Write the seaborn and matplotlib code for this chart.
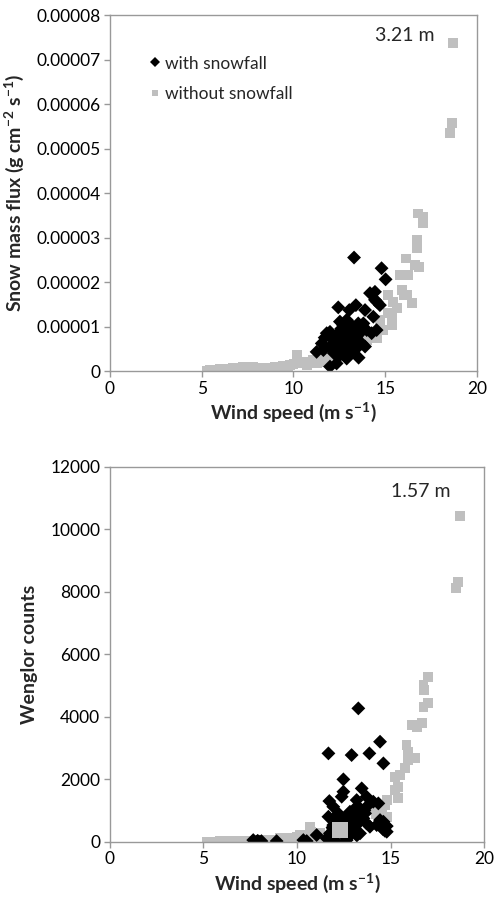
import numpy as np
import pandas as pd
import matplotlib
matplotlib.use("Agg")
import matplotlib.pyplot as plt
import seaborn as sns

# ---------------- data: top panel (3.21 m, snow mass flux, units 1e-5 g cm-2 s-1) ----------------
top_dry_x = [18.71, 18.62, 18.53, 16.80, 17.04, 17.04, 16.75, 16.75, 16.62, 16.84, 16.13, 15.80,
             16.26, 15.90, 16.00, 16.20, 16.44, 15.17, 15.44, 15.62, 15.35, 15.17, 14.71, 15.35,
             14.86, 14.53, 14.08, 13.81, 13.99, 12.26, 12.62, 11.44, 11.81, 11.08, 10.17, 10.35,
             9.81, 9.26, 8.54, 7.81, 7.27, 6.72, 6.00, 5.45, 5.27, 5.81, 6.36, 7.08, 8.17, 8.90,
             9.54, 10.72, 11.26, 12.17,
             5.60, 6.20, 6.50, 6.90, 7.40, 7.60, 8.00, 8.35, 8.70, 9.00, 9.40, 9.70, 10.00,
             10.50, 10.90, 11.60, 12.00, 12.40]
top_dry_y = [7.38, 5.58, 5.34, 3.54, 3.47, 3.32, 2.94, 2.76, 2.38, 2.34, 2.53, 2.16,
             2.16, 1.82, 1.71, 1.71, 1.52, 1.71, 1.56, 1.41, 1.22, 1.30, 1.15, 1.03,
             0.92, 0.75, 0.81, 0.75, 0.70, 0.40, 0.43, 0.28, 0.21, 0.25, 0.36, 0.17,
             0.13, 0.10, 0.07, 0.10, 0.10, 0.06, 0.04, 0.02, 0.00, 0.02, 0.04, 0.07, 0.06, 0.07,
             0.10, 0.13, 0.17, 0.21,
             0.02, 0.03, 0.05, 0.06, 0.08, 0.06, 0.05, 0.08, 0.05, 0.09, 0.12, 0.08, 0.15,
             0.20, 0.18, 0.30, 0.35, 0.30]
top_snow_x = [13.30, 14.80, 15.02, 14.17, 14.44, 14.53, 14.71, 14.44, 12.44, 13.40, 13.04, 13.90,
              14.35, 13.81, 13.90, 11.81, 11.99, 12.53, 12.71, 12.90, 13.17, 13.35, 13.53, 13.08,
              12.17, 12.35, 12.62, 12.90, 13.26, 13.44, 13.62, 12.99, 12.71, 13.08, 12.53, 12.90,
              12.35, 11.26, 11.63, 11.99, 11.54, 12.17, 13.26, 13.44, 13.72, 12.81, 12.44, 13.99,
              14.26, 14.53, 11.99, 13.17,
              12.60, 12.80, 13.00, 13.20, 12.70, 13.10, 13.30, 12.50, 12.80, 11.70, 12.20, 13.55]
top_snow_y = [2.55, 2.31, 2.06, 1.75, 1.78, 1.56, 1.48, 1.60, 1.43, 1.48, 1.37, 1.37,
              1.22, 1.07, 0.55, 0.85, 0.88, 1.11, 1.03, 1.15, 1.03, 0.96, 1.07, 0.85,
              0.70, 0.81, 0.77, 0.70, 0.62, 0.77, 0.85, 0.55, 0.47, 0.40, 0.36, 0.28,
              0.17, 0.43, 0.47, 0.55, 0.62, 0.51, 0.47, 0.51, 0.62, 0.62, 0.58, 0.92,
              0.85, 0.92, 0.10, 0.77,
              0.95, 0.90, 0.95, 0.90, 0.60, 0.65, 0.70, 0.50, 0.35, 0.75, 0.40, 0.30]

# ---------------- data: bottom panel (1.57 m, Wenglor counts) ----------------
bot_dry_x = [18.72, 18.63, 18.50, 17.02, 16.76, 16.79, 17.02, 16.76, 16.67, 16.13, 16.40, 15.86,
             15.95, 16.31, 15.95, 15.78, 15.51, 15.24, 15.42, 15.24, 15.42, 14.80, 14.71, 13.99,
             14.80, 14.53, 10.70, 10.78, 10.16, 9.63, 9.09, 8.56, 8.02, 7.49, 6.95, 6.42,
             5.88, 5.35, 5.17, 11.23, 11.59, 11.94, 11.05, 9.89, 9.36, 12.83,
             5.60, 6.20, 6.70, 7.20, 7.70, 8.30, 8.80, 9.20, 9.50, 10.00, 10.40, 10.90, 11.40,
             11.80, 12.60, 13.50, 14.20]
bot_dry_y = [10421, 8320, 8107, 5280, 5013, 4853, 4427, 4320, 3787, 3733, 3680, 3093,
             2880, 2667, 2613, 2347, 2133, 2080, 1760, 1653, 1387, 1333, 1173, 1013,
             800, 853, 480, 320, 213, 107, 107, 53, 53, 32, 21, 11,
             11, 0, 0, 267, 160, 320, 107, 107, 75, 480,
             0, 10, 15, 25, 30, 45, 60, 80, 130, 150, 180, 250, 200,
             350, 250, 650, 900]
bot_snow_x = [13.28, 14.44, 11.68, 12.92, 13.87, 14.62, 12.48, 12.48, 12.39, 13.46, 11.73, 11.94,
              13.72, 14.08, 14.35, 13.81, 11.68, 12.03, 13.19, 12.83, 13.37, 13.01, 12.66, 12.30,
              11.94, 13.55, 13.72, 13.10, 12.66, 12.12, 11.76, 11.59, 13.19, 13.37, 13.90, 14.26,
              14.44, 14.62, 14.71, 14.80, 12.48, 12.66, 7.66, 7.84, 8.02, 8.91, 10.34, 10.52,
              11.05, 12.21, 13.19, 13.64,
              12.90, 13.10, 13.30, 12.70, 13.00, 13.40, 12.40, 12.20, 13.60, 12.90, 13.20, 11.90,
              14.70, 14.80, 14.60, 12.00, 12.10, 7.90, 8.10]
bot_snow_y = [4267, 3200, 2827, 2773, 2827, 2507, 1995, 1600, 1440, 1707, 1301, 1120,
              1440, 1280, 1227, 1173, 800, 747, 1120, 960, 907, 800, 693, 587,
              533, 747, 587, 587, 427, 373, 267, 107, 320, 267, 480, 533,
              693, 640, 480, 320, 213, 53, 53, 0, 0, 21, 53, 21,
              213, 907, 1333, 907,
              700, 900, 600, 850, 450, 1050, 650, 450, 1000, 250, 200, 450,
              350, 500, 400, 200, 0, 30, 20]
# one larger grey marker
big_x = [12.30]
big_y = [373]

LAB_SNOW = "with snowfall"
LAB_DRY = "without snowfall"
GREY = "#bfbfbf"

sns.set_theme(style="white")
plt.rcParams["font.family"] = ["Lato", "DejaVu Sans"]
plt.rcParams["mathtext.default"] = "regular"

fig = plt.figure(figsize=(4.95, 8.99), dpi=100)
ax1 = fig.add_axes([0.2222, 0.5873, 0.7414, 0.3960])
ax2 = fig.add_axes([0.2222, 0.0637, 0.7556, 0.4172])


def make_df(dx, dy, sx, sy, scale=1.0):
    return pd.DataFrame({
        "wind": list(dx) + list(sx),
        "val": [v * scale for v in dy] + [v * scale for v in sy],
        "cond": [LAB_DRY] * len(dx) + [LAB_SNOW] * len(sx),
    })


df1 = make_df(top_dry_x, top_dry_y, top_snow_x, top_snow_y, 1e-5)
df2 = make_df(bot_dry_x, bot_dry_y, bot_snow_x, bot_snow_y)

pal = {LAB_SNOW: "black", LAB_DRY: GREY}
mk = {LAB_SNOW: "D", LAB_DRY: "s"}

for ax, df in [(ax1, df1), (ax2, df2)]:
    sns.scatterplot(data=df, x="wind", y="val", hue="cond", style="cond",
                    hue_order=[LAB_SNOW, LAB_DRY], style_order=[LAB_SNOW, LAB_DRY],
                    palette=pal, markers=mk, s=50, linewidth=0, ax=ax,
                    legend=(ax is ax1))

sns.scatterplot(x=big_x, y=big_y, color=GREY, marker="s", s=140, linewidth=0, ax=ax2)

ax1.set_ylim(0, 0.00008)
ax1.set_yticks(np.arange(0, 0.000081, 0.00001))
ax1.set_yticklabels(["0"] + [f"{v:.5f}" for v in np.arange(0.00001, 0.000081, 0.00001)])
ax2.set_ylim(0, 12000)
ax2.set_yticks(np.arange(0, 12001, 2000))
ax2.set_yticklabels([str(v) for v in range(0, 12001, 2000)])

for ax in (ax1, ax2):
    ax.set_xlim(0, 20)
    ax.set_xticks([0, 5, 10, 15, 20])
    for sp in ax.spines.values():
        sp.set_color("#999999")
        sp.set_linewidth(1.0)
    ax.tick_params(axis="both", which="major", direction="out", length=4, width=1,
                   color="#999999", labelsize=12.5, labelcolor="black", pad=3,
                   left=True, bottom=True)
    ax.set_xlabel("Wind speed (m s$^{-1}$)", fontsize=14, fontweight="bold", labelpad=3)
    ax.grid(False)

ax1.set_ylabel("Snow mass flux (g cm$^{-2}$ s$^{-1}$)", fontsize=14, fontweight="bold", labelpad=7)
ax2.set_ylabel("Wenglor counts", fontsize=14, fontweight="bold", labelpad=9)

ax1.text(14.45, 0.0000755, "3.21 m", fontsize=14, ha="left", va="center")
ax2.text(15.0, 11200, "1.57 m", fontsize=14, ha="left", va="center")

leg = ax1.legend(loc="upper left", bbox_to_anchor=(0.06, 0.93), frameon=False,
                 fontsize=12.5, handletextpad=0.1, labelspacing=0.85, markerscale=0.7,
                 handlelength=0.9, title=None)

fig.savefig("out.png", dpi=100)
